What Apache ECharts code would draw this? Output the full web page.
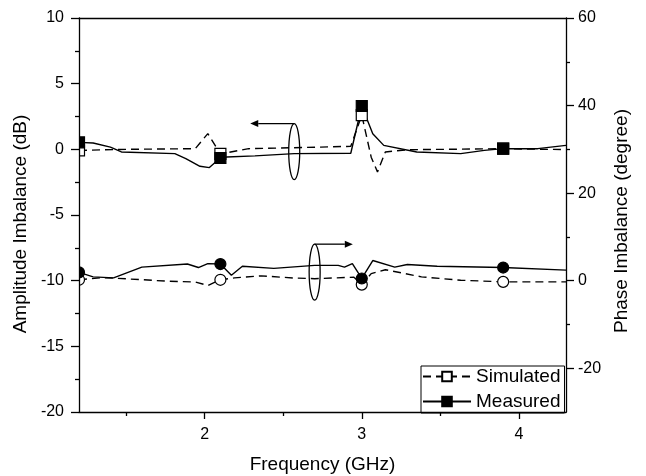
<!DOCTYPE html>
<html>
<head>
<meta charset="utf-8">
<script src="https://cdn.jsdelivr.net/npm/echarts@6/dist/echarts.min.js"></script>
<style>
  html, body { margin: 0; padding: 0; background: #fff; }
  #chart { width: 646px; height: 476px; }
</style>
</head>
<body>
<div id="chart"></div>
<script>
// ---- data ----
// Amplitude imbalance (dB) vs frequency (GHz)
const ampSimFreq = [1.2, 1.5, 1.94, 2.02, 2.1, 2.28, 2.74, 2.93, 3.0, 3.06, 3.1, 3.15, 3.29, 3.9, 4.3];
const ampSimDb   = [-0.08, 0.0, 0.05, 1.2, -0.35, 0.05, 0.17, 0.23, 2.6, -0.6, -1.72, -0.2, -0.03, 0.05, -0.02];

const ampMeasFreq = [1.2, 1.29, 1.40, 1.47, 1.81, 1.88, 1.97, 2.03, 2.07, 2.1, 2.14, 2.32, 2.57, 2.93, 3.0, 3.07, 3.14, 3.35, 3.63, 3.78, 3.9, 4.12, 4.3];
const ampMeasDb   = [0.53, 0.48, 0.17, -0.2, -0.33, -0.7, -1.29, -1.39, -0.96, -0.66, -0.58, -0.5, -0.33, -0.3, 3.3, 1.19, 0.3, -0.2, -0.33, -0.08, 0.05, 0.05, 0.3];

// Phase imbalance (degree) vs frequency (GHz)
const phaseSimFreq = [1.2, 1.35, 1.58, 1.75, 1.94, 2.02, 2.1, 2.19, 2.36, 2.57, 2.7, 2.95, 3.0, 3.06, 3.15, 3.38, 3.63, 3.9, 4.3];
const phaseSimDeg  = [0.2, 0.7, 0.27, -0.1, -0.3, -1.1, 0.2, 0.64, 1.1, 0.6, 0.45, 0.8, -0.9, 1.6, 2.5, 0.87, 0.1, -0.27, -0.27];

const phaseMeasFreq = [1.2, 1.29, 1.42, 1.6, 1.89, 1.96, 2.02, 2.1, 2.17, 2.24, 2.44, 2.70, 2.85, 2.89, 2.94, 3.0, 3.07, 3.21, 3.29, 3.48, 3.9, 4.3];
const phaseMeasDeg  = [1.9, 0.87, 0.64, 3.1, 3.8, 3.0, 3.9, 3.8, 1.25, 3.3, 2.8, 3.5, 3.5, 3.1, 3.9, 0.5, 4.6, 3.1, 3.7, 3.3, 3.0, 2.4];

// Frequencies where a symbol is drawn on every curve
const markerFreqs = [1.2, 2.1, 3.0, 3.9];

// Axis ticks
const freqRange = [1.2, 4.3];
const freqTickLabels = [2, 3, 4];
const freqMinorTicks = [1.5, 2.5, 3.5];
const ampRange = [-20, 10];
const ampStep = 5;
const phaseRange = [-30, 60];
const phaseTickLabels = [-20, 0, 20, 40, 60];
const phaseMinorTicks = [-10, 10, 30, 50];

const seriesNames = ['Simulated', 'Measured'];

// Bracket annotations (ellipse around a curve group + arrow to its axis side)
const ampNote   = { cx: 2.57, cy: -0.17, halfW: 0.035, halfH: 2.13, arrowTo: 2.29, yAxisIndex: 0 };
const phaseNote = { cx: 2.70, cy: 1.94,  halfW: 0.035, halfH: 6.4,  arrowTo: 2.943, yAxisIndex: 1 };

// ---- chart ----
const FONT = '"Liberation Sans", Arial, sans-serif';
const BLACK = '#000';

function curve(name, freqs, vals, yAxisIndex, symbol, filled, dashed) {
  const data = freqs.map((f, i) => {
    const isMarker = markerFreqs.some(m => Math.abs(m - f) < 1e-9);
    return isMarker ? { value: [f, vals[i]] } : { value: [f, vals[i]], symbol: 'none' };
  });
  return {
    type: 'line',
    name: name,
    xAxisIndex: 0,
    yAxisIndex: yAxisIndex,
    data: data,
    symbol: symbol,
    symbolSize: 11,
    showSymbol: true,
    showAllSymbol: true,
    clip: true,
    silent: true,
    itemStyle: { color: filled ? BLACK : '#fff', borderColor: BLACK, borderWidth: 1.2, opacity: 1 },
    lineStyle: { color: BLACK, width: 1.4, type: dashed ? [8, 5] : 'solid' },
    emphasis: { disabled: true }
  };
}

const axisLineStyle = { color: BLACK, width: 1.3 };
const labelStyle = { color: BLACK, fontSize: 16, fontFamily: FONT };
const nameStyle = { color: BLACK, fontSize: 19, fontFamily: FONT };

const chart = echarts.init(document.getElementById('chart'), null, { renderer: 'canvas' });

chart.setOption({
  animation: false,
  backgroundColor: '#fff',
  textStyle: { fontFamily: FONT },
  grid: { left: 79, right: 80, top: 18, bottom: 64, containLabel: false, outerBoundsMode: 'none' },
  legend: {
    data: seriesNames,
    orient: 'vertical',
    left: 421,
    top: 366,
    itemWidth: 48,
    itemHeight: 12,
    itemGap: 6,
    padding: [1, 4, 2, 1],
    borderColor: BLACK,
    borderWidth: 1,
    backgroundColor: '#fff',
    selectedMode: false,
    textStyle: { color: BLACK, fontSize: 19, fontFamily: FONT }
  },
  xAxis: [
    {
      type: 'value', min: freqRange[0], max: freqRange[1], position: 'bottom', z: 10,
      axisLine: { show: true, onZero: false, lineStyle: axisLineStyle },
      axisTick: { show: true, inside: false, length: 7, customValues: freqTickLabels, lineStyle: axisLineStyle },
      axisLabel: { show: true, customValues: freqTickLabels, margin: 15, ...labelStyle },
      splitLine: { show: false },
      name: 'Frequency (GHz)', nameLocation: 'middle', nameGap: 43, nameTextStyle: nameStyle
    },
    {
      type: 'value', min: freqRange[0], max: freqRange[1], position: 'bottom', z: 10,
      axisLine: { show: false, onZero: false },
      axisTick: { show: true, inside: false, length: 4, customValues: freqMinorTicks, lineStyle: axisLineStyle },
      axisLabel: { show: false },
      splitLine: { show: false }
    },
    {
      type: 'value', min: freqRange[0], max: freqRange[1], position: 'top', z: 10,
      axisLine: { show: true, onZero: false, lineStyle: axisLineStyle },
      axisTick: { show: false }, axisLabel: { show: false }, splitLine: { show: false }
    }
  ],
  yAxis: [
    {
      type: 'value', min: ampRange[0], max: ampRange[1], interval: ampStep, position: 'left', z: 10,
      axisLine: { show: true, onZero: false, lineStyle: axisLineStyle },
      axisTick: { show: true, inside: false, length: 8, lineStyle: axisLineStyle },
      minorTick: { show: true, splitNumber: 2, length: 4, lineStyle: axisLineStyle },
      axisLabel: { show: true, margin: 15, ...labelStyle },
      splitLine: { show: false }, minorSplitLine: { show: false },
      name: 'Amplitude Imbalance (dB)', nameLocation: 'middle', nameGap: 39, nameRotate: 90,
      nameTextStyle: { ...nameStyle, padding: [0, 18, 0, 0] }
    },
    {
      type: 'value', min: phaseRange[0], max: phaseRange[1], position: 'right', z: 10,
      axisLine: { show: true, onZero: false, lineStyle: axisLineStyle },
      axisTick: { show: true, inside: false, length: 8, customValues: phaseTickLabels, lineStyle: axisLineStyle },
      axisLabel: { show: true, customValues: phaseTickLabels, margin: 12, ...labelStyle },
      splitLine: { show: false },
      name: 'Phase Imbalance (degree)', nameLocation: 'middle', nameGap: 45, nameRotate: 90,
      nameTextStyle: { ...nameStyle, padding: [0, 12, 0, 0] }
    },
    {
      type: 'value', min: phaseRange[0], max: phaseRange[1], position: 'right', z: 10,
      axisLine: { show: false, onZero: false },
      axisTick: { show: true, inside: false, length: 4, customValues: phaseMinorTicks, lineStyle: axisLineStyle },
      axisLabel: { show: false }, splitLine: { show: false }
    }
  ],
  series: [
    curve(seriesNames[0], ampSimFreq, ampSimDb, 0, 'rect', false, true),
    curve(seriesNames[1], ampMeasFreq, ampMeasDb, 0, 'rect', true, false),
    curve(seriesNames[0], phaseSimFreq, phaseSimDeg, 1, 'circle', false, true),
    curve(seriesNames[1], phaseMeasFreq, phaseMeasDeg, 1, 'circle', true, false)
  ]
});

// ---- annotations and left-edge clipping of symbols ----
function toPx(x, y, yAxisIndex) {
  return [
    chart.convertToPixel({ xAxisIndex: 0 }, x),
    chart.convertToPixel({ yAxisIndex: yAxisIndex }, y)
  ];
}

function noteGraphics(note) {
  const c = toPx(note.cx, note.cy, note.yAxisIndex);
  const top = toPx(note.cx, note.cy + note.halfH, note.yAxisIndex);
  const side = toPx(note.cx + note.halfW, note.cy, note.yAxisIndex);
  const tip = toPx(note.arrowTo, note.cy + note.halfH, note.yAxisIndex);
  const rx = Math.abs(side[0] - c[0]);
  const ry = Math.abs(c[1] - top[1]);
  const dir = Math.sign(tip[0] - top[0]);
  const headLen = 8, headHalf = 3.5;
  const base = tip[0] - dir * headLen;
  return [
    { type: 'ellipse', silent: true, z: 20,
      shape: { cx: c[0], cy: c[1], rx: rx, ry: ry },
      style: { fill: 'none', stroke: BLACK, lineWidth: 1.3 } },
    { type: 'line', silent: true, z: 20,
      shape: { x1: top[0], y1: top[1], x2: base, y2: tip[1] },
      style: { stroke: BLACK, lineWidth: 1.3 } },
    { type: 'polygon', silent: true, z: 20,
      shape: { points: [[tip[0], tip[1]], [base, tip[1] - headHalf], [base, tip[1] + headHalf]] },
      style: { fill: BLACK } }
  ];
}

// White strip left of the plot frame so edge symbols are cut at the axis
const plotLeft = chart.convertToPixel({ xAxisIndex: 0 }, freqRange[0]);
const maskLeft = {
  type: 'rect', silent: true, z: 8,
  shape: { x: 0, y: 0, width: plotLeft, height: chart.getHeight() },
  style: { fill: '#fff' }
};

chart.setOption({
  graphic: { z: 8, elements: [maskLeft].concat(noteGraphics(ampNote), noteGraphics(phaseNote)) }
});
</script>
</body>
</html>
